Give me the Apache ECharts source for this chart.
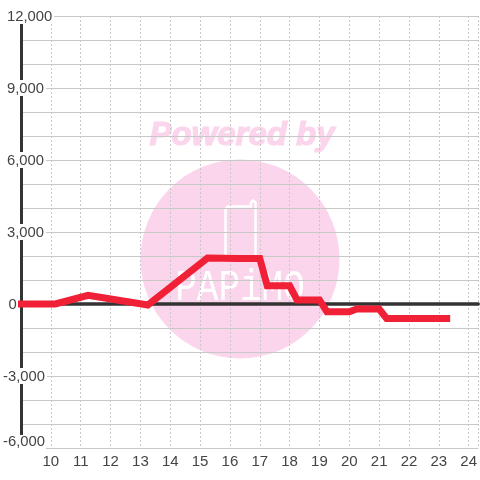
<!DOCTYPE html>
<html><head><meta charset="utf-8">
<style>html,body{margin:0;padding:0;background:#fff}#c{width:480px;height:480px}</style>
<script src="https://cdn.jsdelivr.net/npm/echarts@6/dist/echarts.min.js"></script>
</head><body><div id="c"></div>
<script>
var xValues = [8.9, 10.15, 11.25, 13.25, 15.25, 16.25, 17.0, 17.25, 18.0, 18.25, 19.0, 19.25, 20.0, 20.25, 21.0, 21.25, 23.38];
var yValues = [0, 0, 360, -40, 1920, 1900, 1900, 760, 760, 170, 170, -320, -320, -210, -210, -600, -600];
var yLabelValues = [12000, 9000, 6000, 3000, 0, -3000, -6000];
var watermarkTop = 'Powered by';
var watermarkLogo = 'PAPiMO';
var points = xValues.map(function (x, i) { return [x, yValues[i]]; });
function fmt(v) { return String(v).replace(/\B(?=(\d{3})+$)/g, ','); }
var labelBase = { color: '#444', fontSize: 14.8, fontFamily: 'Liberation Sans', backgroundColor: '#fff', height: 14, lineHeight: 14 };
function rs(t, r, b, l) { return Object.assign({}, labelBase, { padding: [t, r, b, l] }); }
var chart = echarts.init(document.getElementById('c'), null, { renderer: 'canvas' });
chart.setOption({
  animation: false,
  backgroundColor: '#fff',
  grid: { left: 20.5, right: 0, top: 16, bottom: 32, containLabel: false },
  xAxis: [{
    type: 'value', min: 9, max: 24.32, interval: 1, position: 'bottom',
    axisLine: { show: false, onZero: false }, axisTick: { show: false },
    axisLabel: { color: '#444', fontSize: 15, fontFamily: 'Liberation Sans', margin: 6, showMaxLabel: false,
      formatter: function (v) { return v === 9 ? '' : String(v); } },
    splitLine: { show: true, lineStyle: { color: '#c8c8c8', type: [2, 2], width: 1 } }
  }, {
    type: 'value', min: 9, max: 24.32, interval: 1,
    axisLine: { show: true, onZero: true, lineStyle: { color: '#333', width: 3.5 } },
    axisTick: { show: false }, axisLabel: { show: false }, splitLine: { show: false }
  }],
  yAxis: {
    type: 'value', min: -6000, max: 12000, interval: 1000,
    axisLine: { show: true, onZero: false, lineStyle: { color: '#333', width: 3 } },
    axisTick: { show: false },
    axisLabel: {
      inside: true, margin: -18, align: 'left', verticalAlign: 'middle', showMinLabel: true, showMaxLabel: true, hideOverlap: false,
      formatter: function (v) {
        if (yLabelValues.indexOf(v) < 0) return '';
        var t = fmt(v);
        if (v === 0) return '{z|' + t + '}';
        if (v === -6000) return '{b|' + t + '}';
        if (v < 0) return '{n|' + t + '}';
        return '{p|' + t + '}';
      },
      rich: { p: rs(2, 2, 0, 4), n: rs(2, 2, 0, 0), z: rs(2, 2, 0, 5.5), b: rs(0, 1, 12, 0) }
    },
    splitLine: { show: true, lineStyle: { color: '#c8c8c8', width: 1 } }
  },
  graphic: [
    { type: 'circle', z: -10, silent: true, shape: { cx: 240, cy: 259, r: 99.5 }, style: { fill: '#fbd5ec' } },
    { type: 'text', z: -9, silent: true, x: 242, y: 136, style: { text: watermarkTop, fill: '#fbd5ec', stroke: '#fbd5ec', lineWidth: 1.2, font: 'italic bold 33px "Liberation Sans"', align: 'center', verticalAlign: 'middle' } },
    { type: 'polyline', z: -9, silent: true, shape: { points: [[225.5, 258], [225.5, 209], [228, 206.5], [251, 206.5], [251, 202.5], [253, 200.5], [255.5, 202.5], [255.5, 258]] }, style: { fill: 'none', stroke: '#fff', lineWidth: 2.5 } },
    { type: 'text', z: -9, silent: true, x: 240, y: 288, scaleY: 1.25, style: { text: watermarkLogo, fill: '#fff', font: '36px "Liberation Mono"', align: 'center', verticalAlign: 'middle' } }
  ],
  series: [{
    type: 'line', xAxisIndex: 0, data: points, showSymbol: false, clip: false, z: 10,
    lineStyle: { color: '#f02036', width: 7, join: 'miter', cap: 'butt' }
  }]
});
</script></body></html>
